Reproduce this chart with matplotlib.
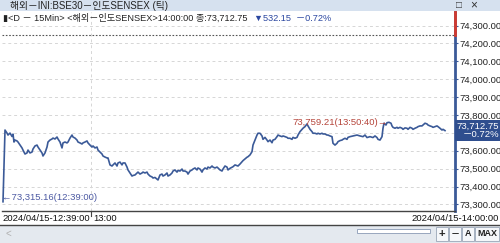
import matplotlib.pyplot as plt
from matplotlib.patches import Rectangle
from matplotlib.transforms import blended_transform_factory

plt.rcParams["font.family"] = ["Liberation Sans", "Noto Sans CJK KR", "DejaVu Sans"]

# tick sequence (position along the tick chart) and trade price
ticks = [
    3, 5, 7, 8, 10, 12, 13, 14, 15, 17,
    18, 20, 22, 23, 25, 27, 28, 30, 32, 33,
    35, 37, 38, 40, 42, 43, 45, 47, 48, 50,
    52, 53, 55, 57, 58, 60, 62, 63, 65, 67,
    68, 70, 72, 73, 75, 77, 78, 80, 82, 83,
    85, 87, 88, 90, 92, 93, 95, 97, 98, 100,
    102, 103, 105, 107, 108, 110, 112, 113, 115, 117,
    118, 120, 122, 123, 125, 127, 128, 130, 132, 133,
    135, 137, 138, 140, 142, 143, 145, 147, 148, 150,
    152, 153, 155, 157, 158, 160, 162, 163, 165, 167,
    168, 170, 172, 173, 175, 177, 178, 180, 182, 183,
    185, 187, 188, 190, 192, 193, 195, 197, 198, 200,
    202, 203, 205, 207, 208, 210, 212, 213, 215, 217,
    218, 220, 222, 223, 225, 227, 228, 230, 233, 235,
    238, 240, 243, 247, 248, 250, 252, 253, 255, 257,
    258, 260, 262, 263, 265, 267, 268, 270, 272, 273,
    275, 277, 278, 280, 282, 283, 285, 287, 288, 290,
    292, 293, 295, 297, 298, 300, 302, 303, 305, 307,
    308, 310, 312, 313, 315, 317, 318, 320, 322, 323,
    325, 327, 328, 330, 332, 333, 335, 337, 338, 340,
    342, 343, 345, 347, 348, 350, 353, 357, 360, 363,
    365, 367, 370, 373, 375, 377, 378, 380, 382, 383,
    384, 386, 387, 389, 391, 392, 393, 395, 397, 398,
    400, 402, 403, 405, 407, 408, 410, 412, 413, 415,
    417, 418, 420, 422, 423, 425, 427, 428, 430, 432,
    433, 435, 437, 438, 440, 442, 443, 445,
]
prices = [
    73315.16, 73716, 73699, 73688, 73699, 73680, 73693, 73649, 73660, 73655,
    73649, 73632, 73616, 73604, 73582, 73588, 73604, 73588, 73593, 73610,
    73627, 73632, 73621, 73604, 73588, 73571, 73588, 73621, 73649, 73660,
    73666, 73671, 73666, 73677, 73666, 73649, 73616, 73644, 73649, 73644,
    73649, 73671, 73688, 73677, 73671, 73660, 73649, 73644, 73638, 73644,
    73649, 73655, 73644, 73632, 73621, 73627, 73616, 73621, 73604, 73593,
    73582, 73571, 73565, 73560, 73560, 73521, 73515, 73521, 73532, 73515,
    73532, 73537, 73521, 73532, 73532, 73509, 73493, 73476, 73459, 73462,
    73465, 73476, 73481, 73470, 73476, 73481, 73476, 73481, 73470, 73459,
    73454, 73448, 73451, 73442, 73437, 73465, 73470, 73459, 73465, 73476,
    73459, 73465, 73476, 73487, 73493, 73481, 73490, 73487, 73498, 73487,
    73487, 73481, 73470, 73487, 73493, 73498, 73504, 73493, 73504, 73498,
    73481, 73493, 73504, 73498, 73509, 73504, 73515, 73509, 73504, 73509,
    73504, 73493, 73487, 73498, 73515, 73509, 73493, 73502, 73511, 73521,
    73515, 73526, 73545, 73564, 73567, 73577, 73595, 73632, 73660, 73688,
    73698, 73698, 73683, 73664, 73675, 73660, 73651, 73660, 73645, 73660,
    73664, 73679, 73688, 73683, 73679, 73683, 73679, 73675, 73670, 73670,
    73664, 73675, 73670, 73675, 73688, 73707, 73720, 73726, 73735, 73750,
    73739, 73720, 73707, 73698, 73698, 73694, 73698, 73694, 73698, 73694,
    73694, 73688, 73688, 73683, 73679, 73642, 73632, 73642, 73651, 73657,
    73660, 73664, 73670, 73664, 73675, 73679, 73683, 73688, 73683, 73679,
    73688, 73674, 73679, 73674, 73683, 73674, 73664, 73660, 73679, 73726,
    73754, 73744, 73757, 73759.21, 73754, 73739, 73731, 73726, 73731, 73726,
    73731, 73726, 73720, 73728, 73726, 73720, 73731, 73726, 73720, 73726,
    73731, 73735, 73739, 73739, 73744, 73754, 73750, 73744, 73739, 73735,
    73731, 73735, 73739, 73735, 73726, 73716, 73720, 73712.75,
]

prev_close = 74244.90
y_levels = [73300, 73400, 73500, 73600, 73700, 73800, 73900, 74000, 74100, 74200, 74300]
time_tick = 91
time_tick_label = "13:00"
start_label = "2024/04/15-12:39:00"
end_label = "2024/04/15-14:00:00"
title = "해외－INI:BSE30－인도SENSEX (틱)"
info = "▮<D － 15Min> <해외－인도SENSEX>14:00:00 종:73,712.75"
change = "▼532.15  －0.72%"
last_box = "73,712.75\n－0.72%"

LINE = "#3b5a98"
W, H = 500, 243


def fx(px):
    return px / W


def fy(py):
    return 1 - py / H


fig = plt.figure(figsize=(5, 2.43), dpi=100)
fig.patch.set_facecolor("white")

# title bar
fig.add_artist(Rectangle((0, fy(11)), 1, 11 / H, transform=fig.transFigure,
                         facecolor="#d6e1ef", edgecolor="none"))
fig.text(fx(10), fy(5.5), title, fontsize=7, color="#222222", va="center")
fig.text(fx(456), fy(5.5), "□", fontsize=7, color="#333333", va="center")
fig.text(fx(470), fy(5.5), "×", fontsize=8.5, color="#333333", va="center")

ax = fig.add_axes([fx(2), fy(211), (455 - 2) / W, (211 - 12) / H])
ax.plot(ticks, prices, color=LINE, lw=1.2)
ax.set_xlim(2, 455)
ax.set_ylim(73263.6, 74375.5)

for lv in y_levels:
    ax.axhline(lv, color="#d6d6d6", lw=0.7, ls=(0, (3, 3)), zorder=0)
ax.axvline(time_tick, color="#d6d6d6", lw=0.7, ls=(0, (3, 3)), zorder=0)
ax.axhline(prev_close, color="#555555", lw=0.8, ls=(0, (1.5, 1.5)), zorder=1)

# the label hidden behind the current-price box is left blank
ax.yaxis.tick_right()
ax.set_yticks(y_levels)
ax.set_yticklabels(["" if v == 73700 else f"{v:,.2f}" for v in y_levels])
ax.tick_params(axis="y", length=2.5, width=0.8, color="#3b5a98", labelsize=6.8, pad=0.5,
               labelcolor="#222222")
ax.set_xticks([])
for s in ["top", "left"]:
    ax.spines[s].set_visible(False)
ax.spines["bottom"].set_color("#444444")
ax.spines["bottom"].set_linewidth(1)
ax.spines["right"].set_color(LINE)
ax.spines["right"].set_linewidth(2)
ax.plot([455, 455], [prev_close, 74375.5], color="#d23a2f", lw=2, clip_on=False, zorder=5)

# extremes
i_max = prices.index(max(prices))
i_min = prices.index(min(prices))
ax.annotate(f"{prices[i_max]:,.2f}(13:50:40)→", (ticks[i_max], prices[i_max]),
            xytext=(-1, 0), textcoords="offset points", ha="right", va="center",
            fontsize=6.8, color="#b5443a")
ax.annotate(f"←{prices[i_min]:,.2f}(12:39:00)", (ticks[i_min], prices[i_min]),
            xytext=(-1, 3), textcoords="offset points", ha="left", va="center",
            fontsize=6.8, color="#4d5aa3")

# current price box
tr = blended_transform_factory(ax.transAxes, ax.transData)
ax.text(1 + 44 / 453, prices[-1], last_box, transform=tr, ha="right", va="center",
        fontsize=6.8, color="white", linespacing=0.95, clip_on=False, zorder=10,
        bbox=dict(boxstyle="square,pad=0.2", facecolor="#2f4e8e", edgecolor="none"))

# header info line
fig.text(fx(3), fy(18), info, fontsize=6.6, color="#222222", va="center")
fig.text(fx(254), fy(18), change, fontsize=6.6, color="#2b47a0", va="center")

# time axis strip
fig.add_artist(plt.Line2D([0, 1], [fy(225), fy(225)], color="#444444", lw=1))
fig.text(fx(2), fy(218.5), start_label, fontsize=6.8, color="#111111", va="center")
fig.add_artist(plt.Line2D([fx(91), fx(91)], [fy(212), fy(216)], color="#444444", lw=0.8))
fig.text(fx(93), fy(218.5), time_tick_label, fontsize=6.8, color="#111111", va="center")
fig.text(fx(499), fy(218.5), end_label, fontsize=6.8, color="#111111", va="center", ha="right")

# scroll bar row
fig.add_artist(Rectangle((0, 0), 1, fy(226), transform=fig.transFigure,
                         facecolor="#e4e9ef", edgecolor="none"))
fig.text(fx(5), fy(234), "<", fontsize=7, color="#b0b0b0", va="center")
fig.add_artist(Rectangle((fx(357), fy(233)), 73 / W, 4 / H, transform=fig.transFigure,
                         facecolor="white", edgecolor="#8a9ab5", lw=0.6))
for k, lab in enumerate(["+", "－", "A", "MAX"]):
    x0 = [436, 449, 462, 475][k]
    wd = [12, 12, 12, 24][k]
    fig.add_artist(Rectangle((fx(x0), fy(241)), wd / W, 14 / H, transform=fig.transFigure,
                             facecolor="#f5f7fa", edgecolor="#9aa6b8", lw=0.6))
    fig.text(fx(x0 + wd / 2), fy(234), lab, fontsize=6.5 if lab != "+" else 8,
             color="#222222", va="center", ha="center", fontweight="bold")

fig.savefig("out.png", dpi=100)
